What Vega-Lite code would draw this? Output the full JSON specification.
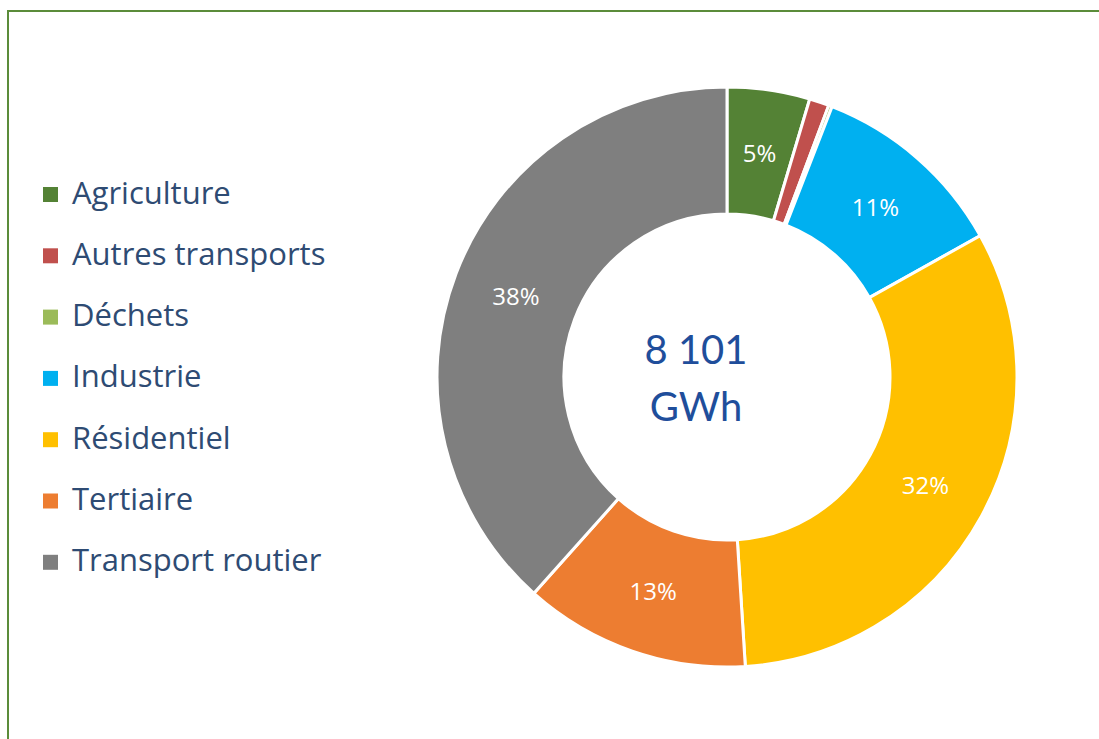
{
  "$schema": "https://vega.github.io/schema/vega-lite/v6.json",
  "autosize": {"type": "none"},
  "width": 1438,
  "height": 732,
  "padding": {"left": 8, "top": 11, "right": -347, "bottom": -4},
  "background": "white",
  "view": {"stroke": "#5B8C3A", "strokeWidth": 2},
  "config": {
    "view": {"stroke": "#5B8C3A", "strokeWidth": 2},
    "font": "Lato"
  },
  "data": {
    "values": [
      {"secteur": "Agriculture", "gwh": 373, "label": "5%"},
      {"secteur": "Autres transports", "gwh": 89, "label": ""},
      {"secteur": "Déchets", "gwh": 16, "label": ""},
      {"secteur": "Industrie", "gwh": 891, "label": "11%"},
      {"secteur": "Résidentiel", "gwh": 2600, "label": "32%"},
      {"secteur": "Tertiaire", "gwh": 1021, "label": "13%"},
      {"secteur": "Transport routier", "gwh": 3111, "label": "38%"}
    ]
  },
  "encoding": {
    "theta": {"field": "gwh", "type": "quantitative", "stack": true},
    "order": {"field": "secteur", "type": "nominal", "sort": "ascending"}
  },
  "layer": [
    {
      "mark": {"type": "arc", "outerRadius": 290, "innerRadius": 163, "stroke": "white", "strokeWidth": 3},
      "encoding": {
        "color": {
          "field": "secteur",
          "type": "nominal",
          "scale": {
            "domain": ["Agriculture", "Autres transports", "Déchets", "Industrie", "Résidentiel", "Tertiaire", "Transport routier"],
            "range": ["#548235", "#C0504D", "#9BBB59", "#00B0F0", "#FFC000", "#ED7D31", "#7F7F7F"]
          },
          "legend": {
            "title": null,
            "orient": "none",
            "legendX": 27,
            "legendY": 168,
            "symbolType": "square",
            "symbolSize": 225,
            "symbolStrokeWidth": 0,
            "labelFont": "Open Sans",
            "labelFontSize": 31,
            "labelColor": "#2E4B73",
            "labelOffset": 6,
            "rowPadding": 29.3,
            "labelLimit": 400
          }
        }
      }
    },
    {
      "mark": {"type": "text", "radius": 226, "fontSize": 24, "font": "Open Sans", "color": "white", "dy": 2},
      "encoding": {
        "text": {"field": "label"}
      }
    },
    {
      "data": {"values": [{"t": ["8 101", "GWh"]}]},
      "mark": {"type": "text", "fontSize": 40, "font": "Lato", "color": "#1F4E9B", "lineHeight": 57, "baseline": "middle", "dx": -31, "dy": -25},
      "encoding": {
        "text": {"field": "t"},
        "theta": null,
        "order": null
      }
    }
  ]
}
